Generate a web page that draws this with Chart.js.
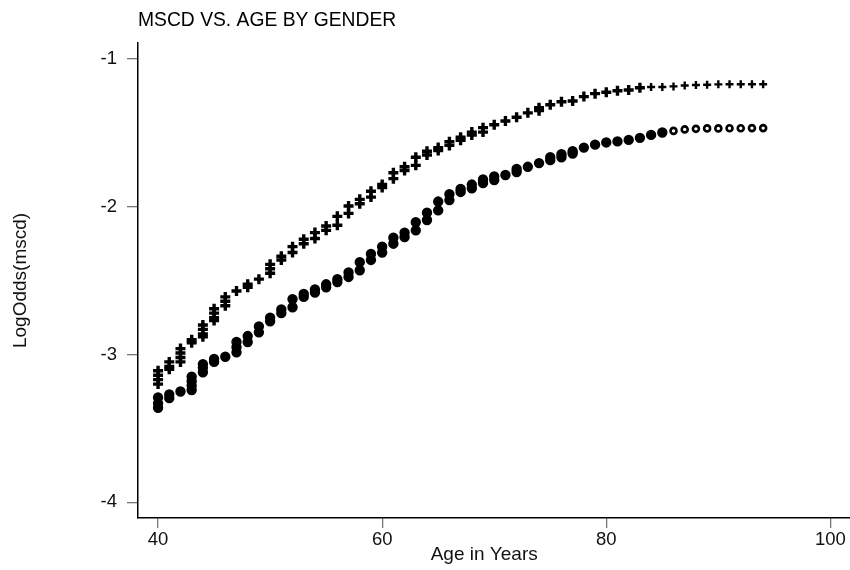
<!DOCTYPE html>
<html>
<head>
<meta charset="utf-8">
<script src="https://cdn.jsdelivr.net/npm/chart.js@4/dist/chart.umd.min.js"></script>
<style>
  html, body { margin: 0; padding: 0; background: #fff; }
</style>
</head>
<body>
<canvas id="mscdChart" width="850" height="570"></canvas>
<script>
// ages on the x axis
const ages = [
  40, 41, 42, 43, 44, 45, 46, 47, 48, 49,
  50, 51, 52, 53, 54, 55, 56, 57, 58, 59,
  60, 61, 62, 63, 64, 65, 66, 67, 68, 69,
  70, 71, 72, 73, 74, 75, 76, 77, 78, 79,
  80, 81, 82, 83, 84, 85, 86, 87, 88, 89,
  90, 91, 92, 93, 94,
];

// plus markers (upper group), several observations per age
const upperGroup = [
  [-3.11, -3.14, -3.17, -3.2], [-3.05, -3.08, -3.1], [-2.96, -2.99, -3.02, -3.05], [-2.9, -2.92],
  [-2.8, -2.83, -2.86, -2.88], [-2.69, -2.72, -2.75, -2.77], [-2.61, -2.64, -2.67], [-2.57],
  [-2.525, -2.545], [-2.49], [-2.39, -2.42, -2.45], [-2.335, -2.36],
  [-2.27, -2.31], [-2.22, -2.25], [-2.175, -2.215], [-2.13, -2.16],
  [-2.065, -2.125], [-1.995, -2.045], [-1.95, -1.98], [-1.895, -1.935],
  [-1.85, -1.87], [-1.77, -1.81], [-1.73, -1.755], [-1.665, -1.72],
  [-1.625, -1.65], [-1.6, -1.62], [-1.56, -1.585], [-1.53, -1.55],
  [-1.495, -1.515], [-1.465, -1.495], [-1.445], [-1.42],
  [-1.395], [-1.365], [-1.33, -1.35], [-1.31],
  [-1.29], [-1.285], [-1.255], [-1.235],
  [-1.225], [-1.215], [-1.21], [-1.195],
  [-1.19], [-1.19], [-1.186], [-1.18],
  [-1.176], [-1.175], [-1.172], [-1.171],
  [-1.171], [-1.171], [-1.171],
];

// circle markers (lower group)
const lowerGroup = [
  [-3.29, -3.33, -3.36], [-3.27, -3.295], [-3.25], [-3.15, -3.18, -3.21, -3.24],
  [-3.065, -3.09, -3.12], [-3.03, -3.05], [-3.015], [-2.915, -2.95, -2.985],
  [-2.875, -2.915], [-2.81, -2.85], [-2.75, -2.775], [-2.695, -2.72],
  [-2.625, -2.68], [-2.59, -2.61], [-2.56, -2.58], [-2.525, -2.545],
  [-2.49, -2.51], [-2.445, -2.475], [-2.375, -2.43], [-2.32, -2.36],
  [-2.27, -2.31], [-2.21, -2.25], [-2.175, -2.205], [-2.105, -2.16],
  [-2.04, -2.09], [-1.965, -2.025], [-1.915, -1.955], [-1.88, -1.9],
  [-1.85, -1.875], [-1.815, -1.84], [-1.795, -1.82], [-1.785],
  [-1.745, -1.765], [-1.73], [-1.705], [-1.665, -1.685],
  [-1.645, -1.665], [-1.625, -1.64], [-1.6], [-1.58],
  [-1.565], [-1.558], [-1.548], [-1.534],
  [-1.514], [-1.498], [-1.487], [-1.477],
  [-1.473], [-1.47], [-1.47], [-1.469],
  [-1.469], [-1.468], [-1.468],
];

const xTicks = [40, 60, 80, 100];
const yTicks = [-4, -3, -2, -1];

function toPoints(values) {
  const pts = [];
  ages.forEach((age, i) => {
    values[i].forEach((v) => pts.push({ x: age, y: v }));
  });
  return pts;
}

const fontFamily = "'Liberation Sans', Arial, sans-serif";
const isTail = (ctx, from) => ctx.raw && ctx.raw.x >= from;

// x axis title, centred between the plot's left edge and the last tick
const xTitlePlugin = {
  id: "xTitle",
  afterDraw(chart) {
    const { ctx, chartArea, scales } = chart;
    const cx = (chartArea.left + scales.x.getPixelForValue(xTicks[xTicks.length - 1])) / 2;
    ctx.save();
    ctx.fillStyle = "#111";
    ctx.font = "19px " + fontFamily;
    ctx.textAlign = "center";
    ctx.textBaseline = "middle";
    ctx.fillText("Age in Years", cx, chart.height - 15);
    ctx.restore();
  },
};

new Chart(document.getElementById("mscdChart"), {
  type: "scatter",
  data: {
    datasets: [
      {
        label: "upper",
        data: toPoints(upperGroup),
        pointStyle: "cross",
        pointRadius: (ctx) => (isTail(ctx, 84) ? 4 : 5),
        borderColor: "#000",
        borderWidth: (ctx) => (isTail(ctx, 84) ? 2.4 : 3.4),
      },
      {
        label: "lower",
        data: toPoints(lowerGroup),
        pointStyle: "circle",
        pointRadius: (ctx) => (isTail(ctx, 86) ? 3 : 3.7),
        // single circles near the end show a small hollow center
        backgroundColor: (ctx) => (isTail(ctx, 86) ? "#fff" : "#000"),
        borderColor: "#000",
        borderWidth: (ctx) => (isTail(ctx, 86) ? 2.6 : 3),
      },
    ],
  },
  options: {
    responsive: false,
    animation: false,
    layout: { padding: 0, autoPadding: false },
    plugins: {
      legend: { display: false },
      tooltip: { enabled: false },
      title: {
        display: true,
        text: "MSCD VS. AGE BY GENDER",
        align: "start",
        fullSize: false,
        color: "#000",
        font: { family: fontFamily, size: 19.3, weight: "normal", lineHeight: 1.2 },
        padding: { top: 9, bottom: 10.8 },
      },
    },
    scales: {
      x: {
        type: "linear",
        min: 38.21,
        max: 101.75,
        afterBuildTicks: (s) => { s.ticks = xTicks.map((v) => ({ value: v })); },
        afterFit: (s) => { s.height = 52; },
        grid: { drawOnChartArea: false, drawTicks: true, tickLength: 10, color: "#777", lineWidth: 1.3 },
        border: { display: true, color: "#000", width: 1.5 },
        ticks: { color: "#111", padding: 1, font: { family: fontFamily, size: 18.5 } },
        title: { display: false },
      },
      y: {
        type: "linear",
        min: -4.106,
        max: -0.892,
        afterBuildTicks: (s) => { s.ticks = yTicks.map((v) => ({ value: v })); },
        afterFit: (s) => { s.width = 138; },
        grid: { drawOnChartArea: false, drawTicks: true, tickLength: 11, color: "#777", lineWidth: 1.3 },
        border: { display: true, color: "#000", width: 1.5 },
        ticks: { color: "#111", padding: 10, font: { family: fontFamily, size: 18.5 } },
        title: {
          display: true,
          text: "LogOdds(mscd)",
          color: "#111",
          font: { family: fontFamily, size: 19 },
          padding: { top: 9, bottom: 0 },
        },
      },
    },
  },
  plugins: [xTitlePlugin],
});
</script>
</body>
</html>
